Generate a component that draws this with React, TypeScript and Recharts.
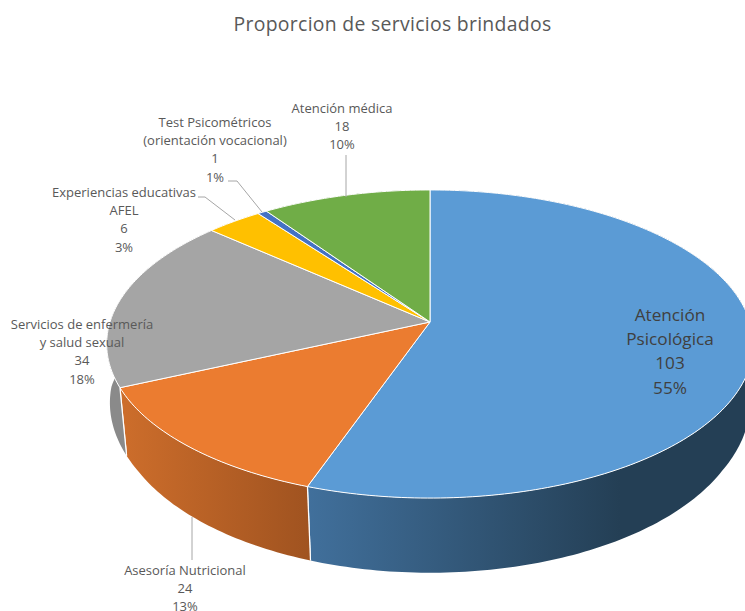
import React from 'react';
import { PieChart, Pie } from 'recharts';

const categories = [
  'Atención\nPsicológica',
  'Asesoría Nutricional',
  'Servicios de enfermería\ny salud sexual',
  'Experiencias educativas\nAFEL',
  'Test Psicométricos\n(orientación vocacional)',
  'Atención médica',
];
const services = [103, 24, 34, 6, 1, 18];

const topColors = ['#5B9BD5', '#EB7C30', '#A5A5A5', '#FFC000', '#4472C4', '#70AD47'];
const wallFrom = ['#41709C', '#CC6D2B', '#8A8A8A', '#C89600', '#335A9A', '#54823A'];
const wallTo = ['#243F55', '#A05320', '#8A8A8A', '#C89600', '#335A9A', '#54823A'];
const wallGradientX = [[306, 620], [125, 309], [107, 125], [0, 745], [0, 745], [0, 745]];

// label centre, first line y, line height, font size, colour, leader line
const labelLayout = [
  { x: 670, y: 314, step: 24.4, size: 17.2, color: '#404040', leader: null },
  { x: 185, y: 570, step: 18.2, size: 13, color: '#595959', leader: '192,517 192,560' },
  { x: 82, y: 324, step: 18.2, size: 13, color: '#595959', leader: null },
  { x: 124, y: 192, step: 18.2, size: 13, color: '#595959', leader: '198,197 205,197 235,220' },
  { x: 215, y: 122, step: 18.2, size: 13, color: '#595959', leader: '228,181 237,181 262,212' },
  { x: 342, y: 108, step: 18.2, size: 13, color: '#595959', leader: '346,155 346,197' },
];

const data = categories.map((name, i) => ({ name, value: services[i], fill: topColors[i] }));

// perspective of the tilted disc
const TILT = 1 / 7;
const SQUASH = 0.4716;
const DEPTH = 64;
const RAD = Math.PI / 180;

const project = (cx: number, cy: number, r: number, deg: number) => {
  const u = Math.cos(deg * RAD);
  const v = -Math.sin(deg * RAD);
  const w = 1 - TILT * v;
  return { x: cx + (r * u) / w, y: cy + (r * SQUASH * v) / w, w, v };
};

const rim = (cx: number, cy: number, r: number, from: number, to: number) => {
  const n = Math.max(2, Math.ceil(Math.abs(to - from)));
  const pts = [];
  for (let i = 0; i <= n; i++) pts.push(project(cx, cy, r, from + ((to - from) * i) / n));
  return pts;
};

// bottom edge of the wall: pulled in a little more toward the viewer's side
const lower = (p: { x: number; y: number; w: number; v: number }, cx: number) => {
  const pull = 0.005 + 0.02 * Math.min(1, Math.abs(p.v) * 2);
  return { x: cx + (p.x - cx) * (1 - pull), y: p.y + DEPTH / p.w };
};

const toPath = (pts: { x: number; y: number }[]) =>
  pts.map((p, i) => `${i ? 'L' : 'M'}${p.x.toFixed(2)},${p.y.toFixed(2)}`).join(' ');

const TopSlice = (props: any) => {
  const { cx, cy, outerRadius, startAngle, endAngle, fill } = props;
  const pts = rim(cx, cy, outerRadius, startAngle, endAngle);
  return <path d={`M${cx},${cy} ${toPath(pts).replace('M', 'L')} Z`} fill={fill} stroke="#fff" strokeWidth={1} strokeLinejoin="round" />;
};

const WallSlice = (props: any) => {
  const { cx, cy, outerRadius, startAngle, endAngle, index } = props;
  const top = rim(cx, cy, outerRadius, startAngle, endAngle);
  const bottom = top.map((p) => lower(p, cx)).reverse();
  const first = top[0];
  const last = top[top.length - 1];
  const firstLow = lower(first, cx);
  const lastLow = lower(last, cx);
  const id = `wall-${index}`;
  return (
    <g>
      <defs>
        <linearGradient id={id} gradientUnits="userSpaceOnUse" x1={wallGradientX[index][0]} x2={wallGradientX[index][1]} y1={0} y2={0}>
          <stop offset="0%" stopColor={wallFrom[index]} />
          <stop offset="100%" stopColor={wallTo[index]} />
        </linearGradient>
      </defs>
      <path d={`${toPath(top)} ${toPath(bottom).replace('M', 'L')} Z`} fill={`url(#${id})`} />
      <line x1={first.x} y1={first.y} x2={firstLow.x} y2={firstLow.y} stroke="#fff" strokeWidth={1.2} />
      <line x1={last.x} y1={last.y} x2={lastLow.x} y2={lastLow.y} stroke="#fff" strokeWidth={1.2} />
    </g>
  );
};

const SliceLabel = (props: any) => {
  const { index, value, percent } = props;
  const layout = labelLayout[index];
  const lines = [...categories[index].split('\n'), String(value), `${Math.round(percent * 100)}%`];
  return (
    <g>
      {layout.leader && <polyline points={layout.leader} fill="none" stroke="#A6A6A6" strokeWidth={1} />}
      <text textAnchor="middle" fontFamily="'Open Sans', sans-serif" fontSize={layout.size} fill={layout.color}>
        {lines.map((line, i) => (
          <tspan key={i} x={layout.x} y={layout.y + i * layout.step} dominantBaseline="central">
            {line}
          </tspan>
        ))}
      </text>
    </g>
  );
};

export default function App() {
  return (
    <div style={{ position: 'absolute', left: 0, top: 0, width: 745, height: 611, overflow: 'hidden', background: '#fff' }}>
      <div
        style={{
          position: 'absolute',
          left: 0,
          top: 10,
          width: 785,
          textAlign: 'center',
          fontFamily: "'Open Sans', sans-serif",
          fontSize: 19.4,
          color: '#595959',
          letterSpacing: 0.3,
        }}
      >
        Proporcion de servicios brindados
      </div>
      <PieChart width={745} height={611} margin={{ top: 0, right: 0, bottom: 0, left: 0 }}>
        <Pie
          data={data}
          dataKey="value"
          cx={430}
          cy={322}
          outerRadius={320}
          startAngle={90}
          endAngle={-270}
          isAnimationActive={false}
          shape={WallSlice}
        />
        <Pie
          data={data}
          dataKey="value"
          cx={430}
          cy={322}
          outerRadius={320}
          startAngle={90}
          endAngle={-270}
          isAnimationActive={false}
          shape={TopSlice}
          label={SliceLabel}
          labelLine={false}
        />
      </PieChart>
    </div>
  );
}
